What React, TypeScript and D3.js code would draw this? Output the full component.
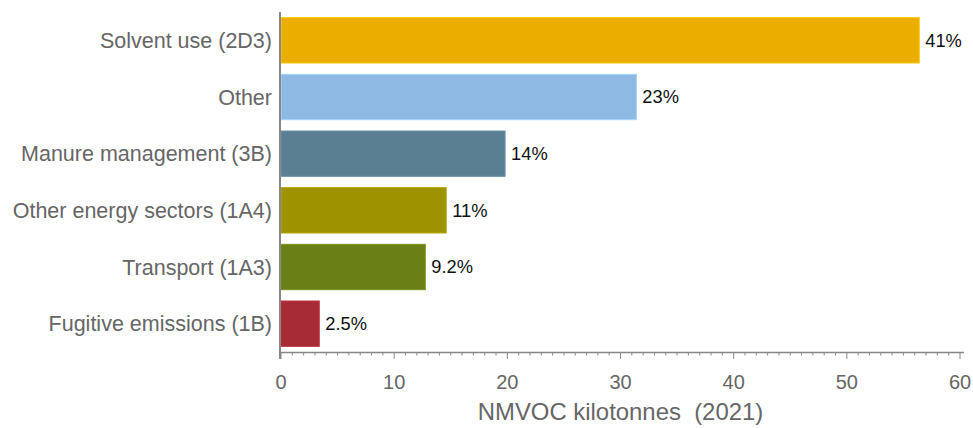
import React from "react";
import * as d3 from "d3";

const categories = [
  "Solvent use (2D3)",
  "Other",
  "Manure management (3B)",
  "Other energy sectors (1A4)",
  "Transport (1A3)",
  "Fugitive emissions (1B)",
];
const values = [56.4, 31.4, 19.8, 14.6, 12.75, 3.38];
const pctLabels = ["41%", "23%", "14%", "11%", "9.2%", "2.5%"];
const colors = ["#EBAD00", "#8DB9E3", "#5A7F92", "#9E9200", "#6A7F16", "#A62B37"];
const xTicks = [0, 10, 20, 30, 40, 50, 60];
const xTitle = "NMVOC kilotonnes  (2021)";

const W = 973;
const H = 428;
const FONT = "'Liberation Sans', Arial, Helvetica, sans-serif";

export default function App() {
  const x = d3.scaleLinear().domain([0, 60]).range([281, 960]);
  const y = d3
    .scaleBand<string>()
    .domain(categories)
    .range([12, 352])
    .paddingInner(0.2)
    .paddingOuter(0.1);
  const minor = d3.range(0, 61, 1);
  const axisY = 352.5;

  return (
    <svg
      width={W}
      height={H}
      style={{ position: "absolute", left: 0, top: 0, background: "#fff" }}
      fontFamily={FONT}
    >
      {categories.map((c, i) => {
        const base = d3.color(colors[i])!;
        const stroke = d3.color(colors[i])!.brighter(0.4).toString();
        return (
          <g key={c}>
            <rect
              x={x(0)}
              y={y(c)!}
              width={x(values[i]) - x(0)}
              height={y.bandwidth()}
              fill={base.toString()}
              stroke={stroke}
              strokeWidth={1}
            />
            <text
              x={x(values[i]) + 6}
              y={y(c)! + y.bandwidth() / 2}
              dy="0.35em"
              fontSize={18.3}
              fill="#111"
            >
              {pctLabels[i]}
            </text>
            <text
              x={272}
              y={y(c)! + y.bandwidth() / 2}
              dy="0.35em"
              textAnchor="end"
              fontSize={21.5}
              fill="#666"
            >
              {c}
            </text>
          </g>
        );
      })}
      {/* y axis line */}
      <line x1={280} x2={280} y1={12} y2={359} stroke="#888" strokeWidth={2} />
      {/* x axis line */}
      <line x1={280} x2={964} y1={axisY} y2={axisY} stroke="#888" strokeWidth={1.5} />
      {minor.map((t) => (
        <line
          key={"m" + t}
          x1={x(t)}
          x2={x(t)}
          y1={axisY}
          y2={t % 10 === 0 ? axisY + 6.5 : axisY + 3}
          stroke="#888"
          strokeWidth={1}
        />
      ))}
      {xTicks.map((t) => (
        <text
          key={"t" + t}
          x={x(t)}
          y={389}
          textAnchor="middle"
          fontSize={20}
          fill="#666"
        >
          {t}
        </text>
      ))}
      <text
        x={(x(0) + x(60)) / 2}
        y={420}
        textAnchor="middle"
        fontSize={23.9}
        fill="#666"
        style={{ whiteSpace: "pre" }}
      >
        {xTitle}
      </text>
    </svg>
  );
}
